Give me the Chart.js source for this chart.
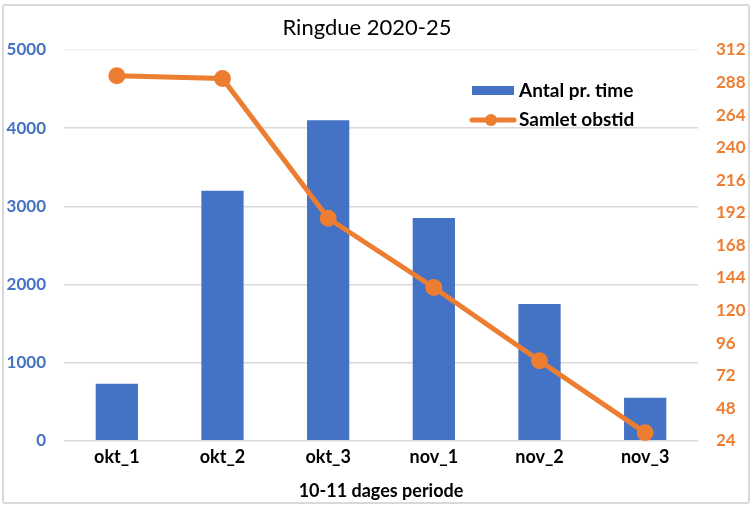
<!DOCTYPE html>
<html>
<head>
<meta charset="utf-8">
<script src="https://cdn.jsdelivr.net/npm/chart.js@4/dist/chart.umd.min.js"></script>
<style>
  body { margin: 0; background: #fff; }
  #wrap { position: relative; width: 756px; height: 516px; }
  #frame { position: absolute; left: 2px; top: 4px; width: 744px; height: 496px;
           border: 2px solid #d9d9d9; border-radius: 3px; pointer-events: none; }
</style>
</head>
<body>
<div id="wrap">
  <canvas id="chart" width="756" height="516"></canvas>
  <div id="frame"></div>
</div>
<script>
// values
const periods = ['okt_1', 'okt_2', 'okt_3', 'nov_1', 'nov_2', 'nov_3'];
const antalPrTime = [730, 3200, 4100, 2850, 1750, 550];
const samletObstid = [293, 291, 188, 137, 83, 30];
const chartTitle = 'Ringdue 2020-25';

const blue = '#4472C4';
const orange = '#ED7D31';
const font = 'Lato, "Noto Sans", sans-serif';

// title is a bit left of centre in the original, so draw it ourselves
const titleText = {
    id: 'titleText',
    afterDraw(chart) {
        const ctx = chart.ctx;
        ctx.save();
        ctx.font = '22px ' + font;
        ctx.fillStyle = '#000';
        ctx.textAlign = 'center';
        ctx.textBaseline = 'middle';
        ctx.fillText(chartTitle, 367, 28);
        ctx.restore();
    }
};

// legend sits inside the plot, top right, like the original
const insideLegend = {
    id: 'insideLegend',
    afterDraw(chart) {
        const ctx = chart.ctx;
        const ds = chart.data.datasets;
        ctx.save();
        ctx.font = 'bold 19px ' + font;
        ctx.textBaseline = 'middle';
        // bar entry
        ctx.fillStyle = blue;
        ctx.fillRect(472, 86, 42, 9);
        ctx.fillStyle = '#000';
        ctx.fillText(ds[0].label, 519, 91);
        // line entry
        ctx.strokeStyle = orange;
        ctx.lineWidth = 5;
        ctx.lineCap = 'round';
        ctx.beginPath();
        ctx.moveTo(472, 120);
        ctx.lineTo(514, 120);
        ctx.stroke();
        ctx.fillStyle = orange;
        ctx.beginPath();
        ctx.arc(491, 120, 6, 0, Math.PI * 2);
        ctx.fill();
        ctx.fillStyle = '#000';
        ctx.fillText(ds[1].label, 519, 120);
        ctx.restore();
    }
};

new Chart(document.getElementById('chart'), {
    type: 'bar',
    data: {
        labels: periods,
        datasets: [
            {
                type: 'bar',
                label: 'Antal pr. time',
                data: antalPrTime,
                backgroundColor: blue,
                yAxisID: 'y',
                barPercentage: 0.4,
                categoryPercentage: 1,
                order: 2
            },
            {
                type: 'line',
                label: 'Samlet obstid',
                data: samletObstid,
                borderColor: orange,
                backgroundColor: orange,
                borderWidth: 5,
                pointRadius: 6,
                pointHoverRadius: 6,
                yAxisID: 'y1',
                order: 1
            }
        ]
    },
    options: {
        responsive: false,
        animation: false,
        layout: { padding: { top: 50, left: 0, right: 0, bottom: 13 } },
        plugins: {
            legend: { display: false },
            tooltip: { enabled: false },
            title: { display: false }
        },
        scales: {
            x: {
                grid: { display: false, drawTicks: false },
                border: { display: false },
                ticks: { color: '#000', padding: 6, font: { family: font, size: 18, weight: 'bold' } },
                title: {
                    display: true,
                    text: '10-11 dages periode',
                    color: '#000',
                    font: { family: font, size: 18, weight: 'bold' },
                    padding: { top: 6, bottom: 1 }
                }
            },
            y: {
                position: 'left',
                min: 0,
                max: 5000,
                ticks: {
                    stepSize: 1000, color: blue, padding: 18,
                    font: { family: font, size: 17, weight: 'bold' },
                    callback: (v) => String(v)
                },
                grid: {
                    color: (c) => c.tick && c.tick.value === 5000 ? '#f2f2f2' : '#d9d9d9',
                    lineWidth: 1.5,
                    drawTicks: false
                },
                border: { display: false },
                afterFit(scale) { scale.width = 64; }
            },
            y1: {
                position: 'right',
                min: 24,
                max: 312,
                ticks: {
                    stepSize: 24, color: orange, padding: 18,
                    font: { family: font, size: 17, weight: 'bold' },
                    callback: (v) => String(v)
                },
                grid: { display: false, drawTicks: false },
                border: { display: false },
                afterFit(scale) { scale.width = 58; }
            }
        }
    },
    plugins: [titleText, insideLegend]
});
</script>
</body>
</html>
